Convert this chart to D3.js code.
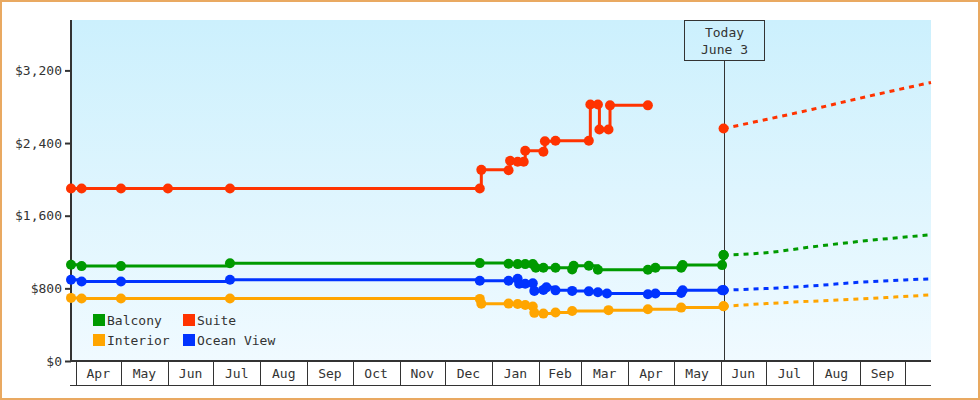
<!DOCTYPE html>
<html>
<head>
<meta charset="utf-8">
<script src="https://cdn.jsdelivr.net/npm/d3@7"></script>
<style>
  body { margin: 0; background: #fff; }
  svg { display: block; font-family: "DejaVu Sans Mono", monospace; }
</style>
</head>
<body>
<svg width="980" height="400"></svg>
<script>
// price history, one array per cabin type: [date, price]
const balcony = [
  ["2012-03-29", 1059], ["2012-04-05", 1045], ["2012-05-01", 1045], ["2012-07-12", 1076],
  ["2012-12-24", 1078], ["2013-01-12", 1070], ["2013-01-18", 1067], ["2013-01-23", 1067],
  ["2013-01-28", 1067], ["2013-01-30", 1026], ["2013-02-04", 1026], ["2013-02-12", 1026],
  ["2013-02-23", 1007], ["2013-02-24", 1048], ["2013-03-06", 1048], ["2013-03-12", 1004],
  ["2013-04-14", 1004], ["2013-04-19", 1026], ["2013-05-06", 1026], ["2013-05-07", 1056],
  ["2013-06-02", 1056], ["2013-06-03", 1166]
];
const suite = [
  ["2012-03-29", 1900], ["2012-04-05", 1900], ["2012-05-01", 1900], ["2012-06-01", 1900],
  ["2012-07-12", 1900], ["2012-12-24", 1900], ["2012-12-25", 2105], ["2013-01-12", 2100],
  ["2013-01-13", 2205], ["2013-01-18", 2195], ["2013-01-22", 2195], ["2013-01-23", 2315],
  ["2013-02-04", 2305], ["2013-02-05", 2420], ["2013-02-12", 2425], ["2013-03-06", 2425],
  ["2013-03-07", 2825], ["2013-03-12", 2825], ["2013-03-13", 2550], ["2013-03-19", 2550],
  ["2013-03-20", 2815], ["2013-04-14", 2815]
];
const interior = [
  ["2012-03-29", 695], ["2012-04-05", 688], ["2012-05-01", 688], ["2012-07-12", 688],
  ["2012-12-24", 684], ["2012-12-25", 630], ["2013-01-12", 632], ["2013-01-18", 627],
  ["2013-01-23", 617], ["2013-01-28", 600], ["2013-01-29", 530], ["2013-02-04", 522],
  ["2013-02-12", 535], ["2013-02-23", 550], ["2013-03-19", 560], ["2013-04-14", 570],
  ["2013-05-06", 588], ["2013-06-03", 602]
];
const oceanView = [
  ["2012-03-29", 894], ["2012-04-05", 875], ["2012-05-01", 875], ["2012-07-12", 894],
  ["2012-12-24", 883], ["2013-01-12", 883], ["2013-01-18", 905], ["2013-01-19", 850],
  ["2013-01-23", 850], ["2013-01-28", 855], ["2013-01-29", 772], ["2013-02-04", 783],
  ["2013-02-06", 811], ["2013-02-12", 778], ["2013-02-23", 772], ["2013-03-06", 767],
  ["2013-03-12", 758], ["2013-03-18", 743], ["2013-04-14", 736], ["2013-04-19", 743],
  ["2013-05-06", 750], ["2013-05-07", 780], ["2013-06-02", 780], ["2013-06-03", 780]
];

// projected prices from today on
const balconyForecast = [["2013-06-03", 1166], ["2013-07-01", 1192], ["2013-08-01", 1258], ["2013-09-01", 1317], ["2013-10-18", 1390]];
const suiteForecast = [["2013-06-03", 2560], ["2013-07-01", 2659], ["2013-08-01", 2773], ["2013-09-01", 2894], ["2013-10-18", 3067]];
const interiorForecast = [["2013-06-03", 602], ["2013-07-01", 632], ["2013-08-01", 659], ["2013-09-01", 683], ["2013-10-18", 728]];
const oceanViewForecast = [["2013-06-03", 780], ["2013-07-01", 798], ["2013-08-01", 828], ["2013-09-01", 867], ["2013-10-18", 905]];

const seriesNames = ["Balcony", "Suite", "Interior", "Ocean View"];
const seriesColors = ["#009a00", "#ff3300", "#ffa500", "#0033ff"];
const yTicks = [0, 800, 1600, 2400, 3200];
const today = "2013-06-03";
const todayLabel = ["Today", "June 3"];

const parse = d3.timeParse("%Y-%m-%d");
const svg = d3.select("svg");
const plotLeft = 71, plotRight = 931, plotTop = 20, plotBottom = 361;

const x = d3.scaleTime()
  .domain([parse("2012-03-29"), parse("2013-10-18")])
  .range([plotLeft, plotRight]);

const y = d3.scaleLinear()
  .domain([0, 3755])
  .range([plotBottom, plotTop]);

// background gradient
const grad = svg.append("defs").append("linearGradient")
  .attr("id", "bg").attr("x1", 0).attr("y1", 0).attr("x2", 0).attr("y2", 1);
grad.append("stop").attr("offset", "0%").attr("stop-color", "#ccf0fd");
grad.append("stop").attr("offset", "100%").attr("stop-color", "#f0faff");

svg.append("rect")
  .attr("x", 1).attr("y", 1).attr("width", 978).attr("height", 398)
  .attr("fill", "#fff").attr("stroke", "#e9a961").attr("stroke-width", 2);

svg.append("rect")
  .attr("x", plotLeft).attr("y", plotTop)
  .attr("width", plotRight - plotLeft).attr("height", plotBottom - plotTop)
  .attr("fill", "url(#bg)");

// month boxes under the plot
const months = d3.timeMonth.range(d3.timeMonth.ceil(x.domain()[0]), x.domain()[1]);
const xAxis = svg.append("g").attr("transform", `translate(0,${plotBottom})`);
xAxis.selectAll("line.sep")
  .data(months)
  .enter().append("line")
  .attr("class", "sep")
  .attr("x1", d => Math.round(x(d)) + 0.5).attr("x2", d => Math.round(x(d)) + 0.5)
  .attr("y1", 0).attr("y2", 24)
  .attr("stroke", "#333");
xAxis.append("line")
  .attr("x1", plotLeft - 1).attr("x2", plotRight).attr("y1", 24.5).attr("y2", 24.5)
  .attr("stroke", "#333");
xAxis.append("line")
  .attr("x1", plotLeft - 1).attr("x2", plotRight).attr("y1", 0).attr("y2", 0)
  .attr("stroke", "#333").attr("stroke-width", 2);
xAxis.selectAll("text")
  .data(months.filter(d => d3.timeMonth.offset(d, 1) <= x.domain()[1]))
  .enter().append("text")
  .attr("x", d => (x(d) + x(d3.timeMonth.offset(d, 1))) / 2)
  .attr("y", 17)
  .attr("text-anchor", "middle")
  .attr("font-size", 13)
  .attr("fill", "#333")
  .text(d3.timeFormat("%b"));

// y axis
const yAxis = svg.append("g")
  .attr("transform", `translate(${plotLeft},0)`)
  .call(d3.axisLeft(y)
    .tickValues(yTicks)
    .tickSize(6)
    .tickPadding(3)
    .tickFormat(d => "$" + d3.format(",")(d)));
yAxis.select(".domain").remove();
yAxis.append("line")
  .attr("x1", 0).attr("x2", 0).attr("y1", plotTop).attr("y2", plotBottom + 1)
  .attr("stroke", "#333").attr("stroke-width", 2);
yAxis.selectAll(".tick line").attr("stroke", "#333").attr("stroke-width", 2);
yAxis.selectAll(".tick text")
  .attr("font-family", "DejaVu Sans Mono, monospace")
  .attr("font-size", 13)
  .attr("fill", "#333");

// today marker
const tx = Math.round(x(parse(today))) + 0.5;
svg.append("line")
  .attr("x1", tx).attr("x2", tx).attr("y1", 61).attr("y2", plotBottom)
  .attr("stroke", "#333");
svg.append("rect")
  .attr("x", tx - 40).attr("y", 20.5).attr("width", 80).attr("height", 40)
  .attr("fill", "none").attr("stroke", "#333");
svg.selectAll("text.today")
  .data(todayLabel)
  .enter().append("text")
  .attr("class", "today")
  .attr("x", tx).attr("y", (d, i) => 37 + i * 17)
  .attr("text-anchor", "middle")
  .attr("font-size", 13)
  .attr("fill", "#333")
  .text(d => d);

// history holds each price until the next reading; forecast is a smooth trend
const stepLine = d3.line()
  .curve(d3.curveStepAfter)
  .x(d => x(parse(d[0])))
  .y(d => y(d[1]));
const trendLine = d3.line()
  .curve(d3.curveMonotoneX)
  .x(d => x(parse(d[0])))
  .y(d => y(d[1]));

const history = [balcony, suite, interior, oceanView];
const forecast = [balconyForecast, suiteForecast, interiorForecast, oceanViewForecast];

forecast.forEach((s, i) => {
  svg.append("path")
    .attr("d", trendLine(s))
    .attr("fill", "none")
    .attr("stroke", seriesColors[i])
    .attr("stroke-width", 3)
    .attr("stroke-dasharray", "5,5");
  svg.append("circle")
    .attr("cx", x(parse(s[0][0]))).attr("cy", y(s[0][1]))
    .attr("r", 5).attr("fill", seriesColors[i]);
});

history.forEach((s, i) => {
  svg.append("path")
    .attr("d", stepLine(s))
    .attr("fill", "none")
    .attr("stroke", seriesColors[i])
    .attr("stroke-width", 3);
  svg.append("g").selectAll("circle")
    .data(s)
    .enter().append("circle")
    .attr("cx", d => x(parse(d[0])))
    .attr("cy", d => y(d[1]))
    .attr("r", 5)
    .attr("fill", seriesColors[i]);
});

// legend
const legend = svg.append("g").attr("transform", "translate(93,314)");
const item = legend.selectAll("g")
  .data(seriesNames)
  .enter().append("g")
  .attr("transform", (d, i) => `translate(${(i % 2) * 90},${Math.floor(i / 2) * 20})`);
item.append("rect")
  .attr("width", 12).attr("height", 12)
  .attr("fill", (d, i) => seriesColors[i]);
item.append("text")
  .attr("x", 14).attr("y", 11)
  .attr("font-size", 13)
  .attr("fill", "#333")
  .text(d => d);
</script>
</body>
</html>
